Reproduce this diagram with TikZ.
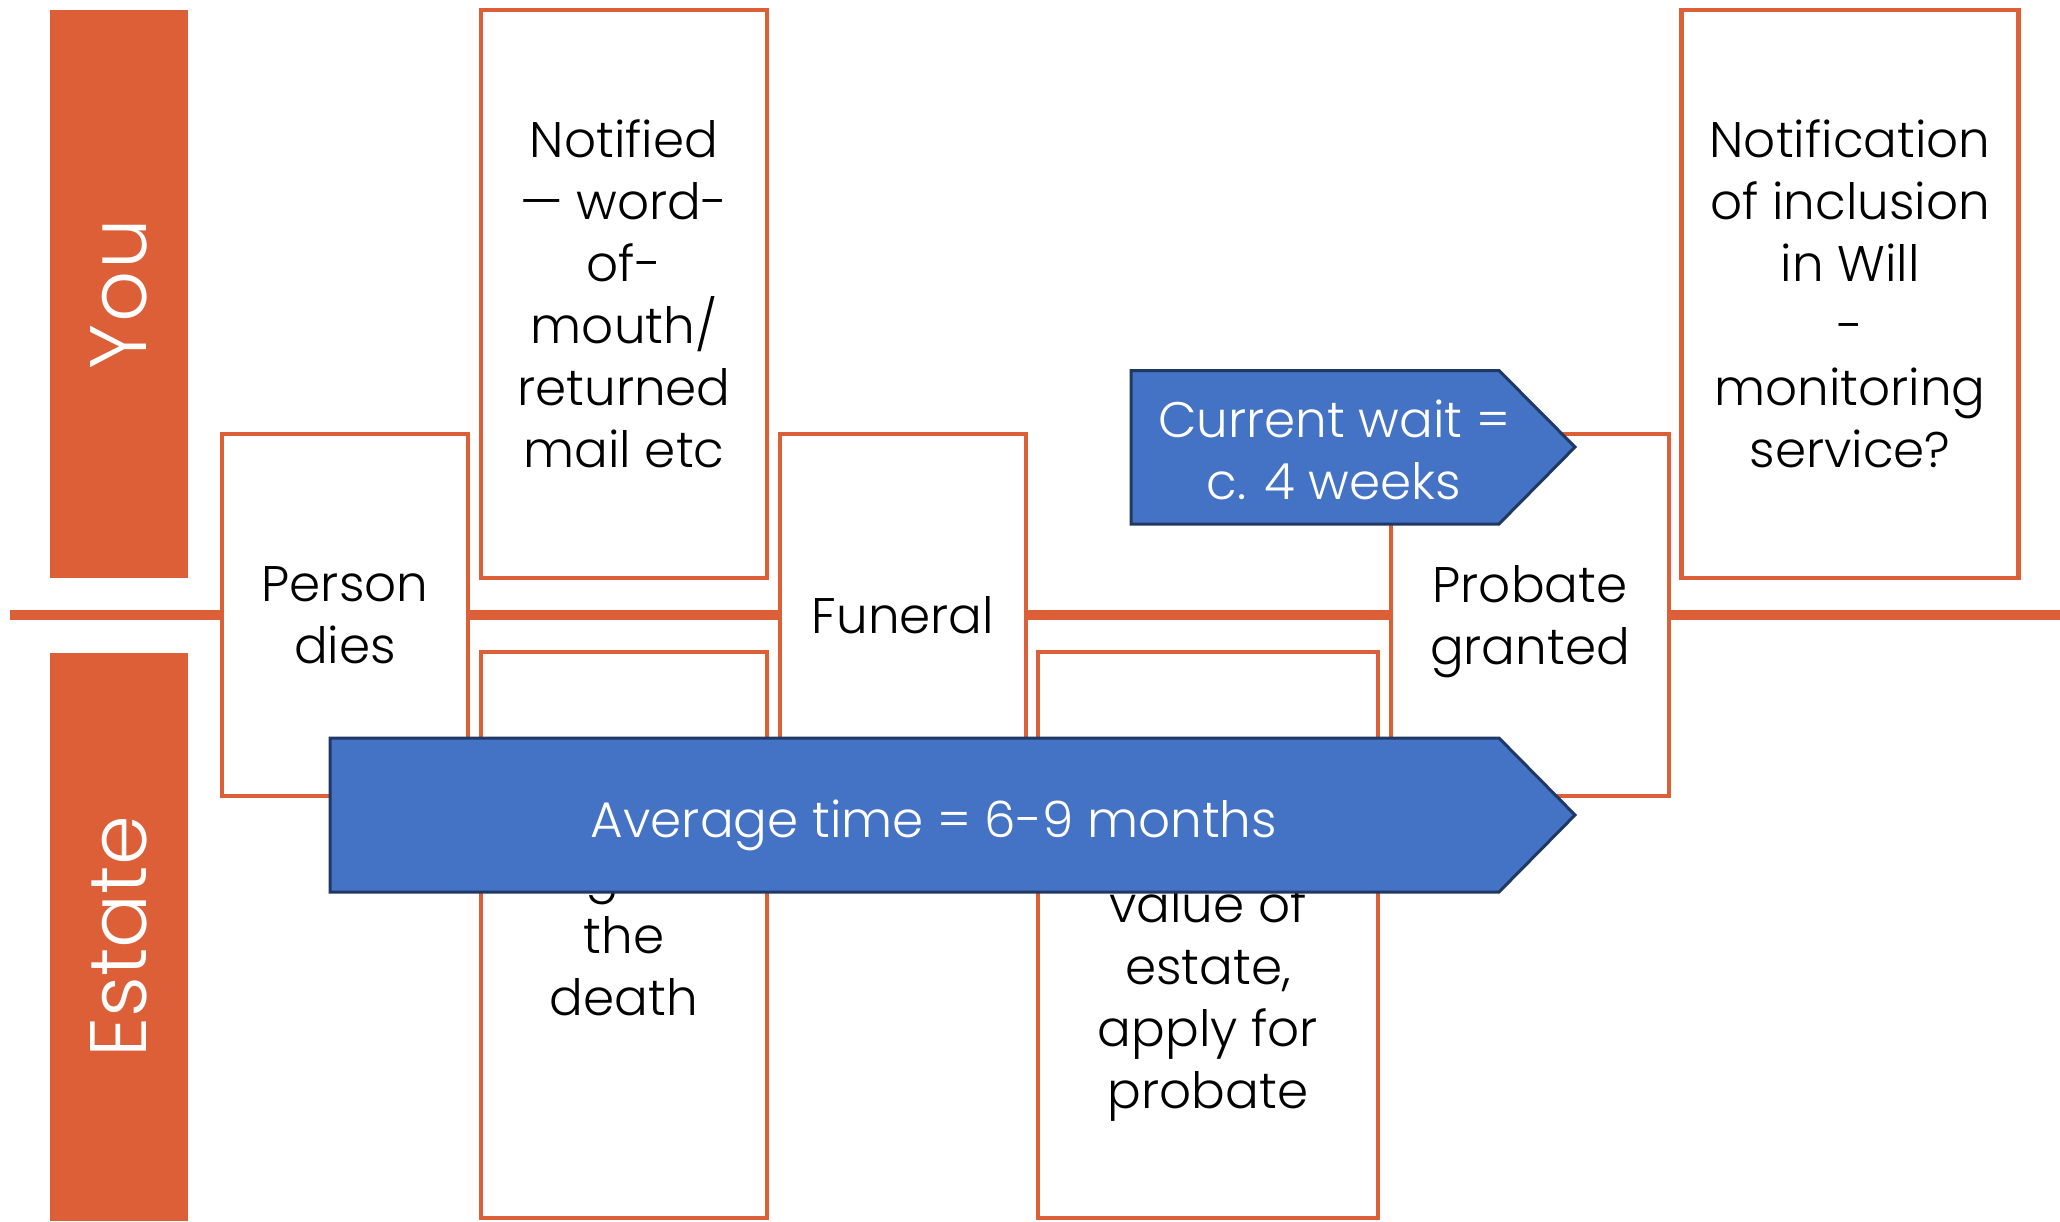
\documentclass[tikz,border=0pt]{standalone}
\usepackage{fontspec}
\setmainfont{Poppins}[UprightFont=* Light]
\definecolor{orng}{HTML}{DD5F37}
\definecolor{blu}{HTML}{4472C4}
\definecolor{navy}{HTML}{1F3864}
\begin{document}
\begin{tikzpicture}[x=0.5pt,y=-0.5pt,
  stepbox/.style={draw=orng, line width=2.25pt, fill=white, align=center,
    font=\fontsize{25}{31}\selectfont, inner sep=0pt, text depth=-4pt},
  lane/.style={fill=orng, inner sep=0pt, minimum width=69pt, minimum height=284pt},
  lanetext/.style={text=white, font=\fontsize{40}{46}\selectfont, rotate=90, inner sep=0pt},
  timeline/.style={draw=orng, line width=5pt},
  waitarrow/.style={fill=blu, draw=navy, line width=1.5pt, line join=miter},
  waittext/.style={text=white, align=center, font=\fontsize{25}{31}\selectfont, inner sep=0pt}]
\useasboundingbox (0,0) rectangle (2060,1221);
% lanes
\node[lane] (you) at (119,294) {};
\node[lanetext] (youlbl) at (you.center) {Y\kern1pt o\kern1pt u};
\node[lane] (estate) at (119,937) {};
\node[lanetext] (estatelbl) at (estate.center) {Estate};
% boxes
\node[stepbox, minimum width=123pt, minimum height=181pt] (dies) at (345,615) {Person\\dies};
\node[stepbox, minimum width=143pt, minimum height=284pt] (notified) at (624,294)
  {Notified\\— word-\\of-\\mouth/\\returned\\mail etc};
\node[stepbox, minimum width=143pt, minimum height=283pt] (register) at (624,935)
  {Register\\the\\death};
\node[stepbox, minimum width=123pt, minimum height=181pt] (funeral) at (903,615) {Funeral};
\node[stepbox, minimum width=170pt, minimum height=283pt] (value) at (1208,935)
  {\vphantom{Nd}\\\mbox{}\\value of\\estate,\\apply for\\probate};
\node[stepbox, minimum width=139pt, minimum height=181pt] (probate) at (1530,615) {Probate\\granted};
\node[stepbox, minimum width=168.5pt, minimum height=284pt] (notification) at (1850,294)
  {Notification\\of inclusion\\in Will\\-\\monitoring\\service?};
% timeline
\coordinate (tl0) at (10,615);
\coordinate (tl1) at (2060,615);
\draw[timeline] (tl0) -- (dies.west);
\draw[timeline] (dies.east) -- (funeral.west);
\draw[timeline] (funeral.east) -- (probate.west);
\draw[timeline] (probate.east) -- (tl1);
% arrows
\draw[waitarrow] (1131,370.5) -- (1499,370.5) -- (1575,447) -- (1499,524) -- (1131,524) -- cycle;
\node[waittext] (cur) at (1334,450) {Current wait =\\c. 4 weeks};
\draw[waitarrow] (330,738) -- (1499,738) -- (1575,815) -- (1499,892) -- (330,892) -- cycle;
\node[waittext] (avg) at (934,825) {Average time = 6-9 months};
\end{tikzpicture}
\end{document}
